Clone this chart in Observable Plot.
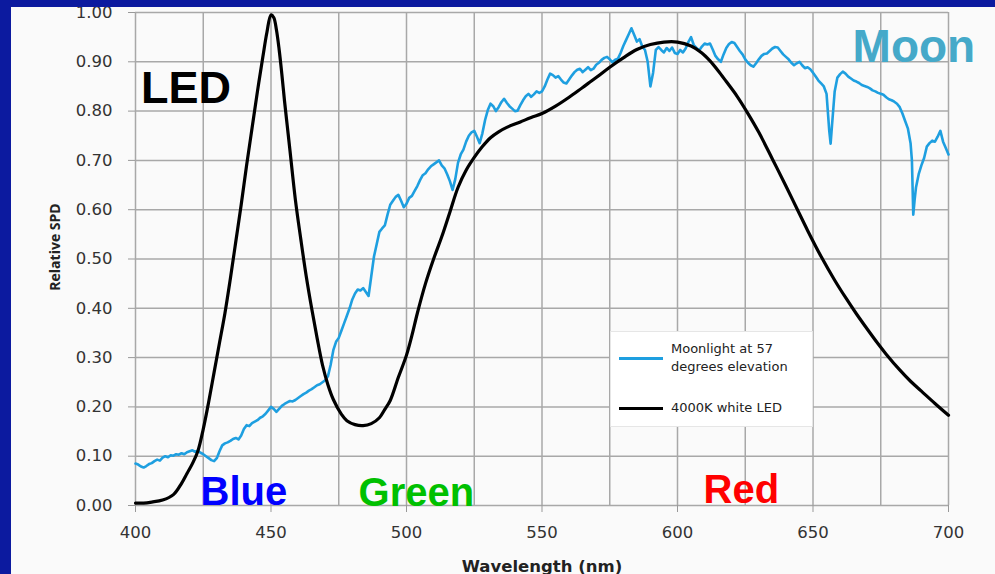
<!DOCTYPE html>
<html>
<head>
<meta charset="utf-8">
<script src="https://cdn.jsdelivr.net/npm/d3@7"></script>
<script src="https://cdn.jsdelivr.net/npm/@observablehq/plot@0.6"></script>
<style>
  html, body { margin: 0; padding: 0; background: #fafafa; }
  #wrap { position: relative; width: 995px; height: 574px; overflow: hidden; background: #fafafa; }
  #chart svg { display: block; }
  .bar { position: absolute; background: #0c1a9f; }
  #legend { position: absolute; left: 610px; top: 331px; width: 201px; height: 94px; background: #ffffff;
            border: 1px solid #e6e6e6; font-family: "DejaVu Sans", sans-serif; font-size: 13px; color: #222; }
  #legend .sw { position: absolute; left: 8px; width: 44px; height: 3px; }
  #legend .tx { position: absolute; left: 60px; line-height: 18px; white-space: nowrap; }
</style>
</head>
<body>
<div id="wrap">
  <div id="chart"></div>
  <div id="legend">
    <div class="sw" style="top:25px;background:#1e9fe0"></div>
    <div class="tx" style="top:8px">Moonlight at 57<br>degrees elevation</div>
    <div class="sw" style="top:75px;background:#000"></div>
    <div class="tx" style="top:67px">4000K white LED</div>
  </div>
  <div class="bar" style="left:0;top:0;width:995px;height:7px"></div>
  <div class="bar" style="left:0;top:0;width:11px;height:574px"></div>
</div>
<script>
const xTicks = [400, 450, 500, 550, 600, 650, 700];
const xGrid = [400, 425, 450, 475, 500, 525, 550, 575, 600, 625, 650, 675, 700];
const yTicks = [0, 0.1, 0.2, 0.3, 0.4, 0.5, 0.6, 0.7, 0.8, 0.9, 1.0];

const ledNm = [400, 403, 406, 410, 414, 417, 419, 421, 423, 425, 427, 429, 431, 433, 435, 437, 439, 441, 443, 445, 447, 448.5, 450, 451, 452, 453, 454, 455, 456, 457, 459, 461, 463, 465, 467, 469, 471, 473, 476, 478, 481, 484, 487, 490, 492, 494, 497, 500, 502, 504, 507, 510, 513, 516, 519, 522, 525, 528, 531, 534, 537, 542, 546, 550, 555, 560, 565, 570, 575, 580, 585, 590, 595, 600, 605, 609, 612, 615, 618, 622, 626, 630, 635, 640, 644, 648, 653, 658, 662, 666, 670, 674, 677, 682, 686, 690, 695, 700];
const ledSpd = [0.005, 0.005, 0.007, 0.011, 0.022, 0.045, 0.065, 0.085, 0.11, 0.155, 0.21, 0.27, 0.33, 0.39, 0.46, 0.535, 0.61, 0.69, 0.765, 0.84, 0.91, 0.96, 0.995, 0.99, 0.965, 0.925, 0.875, 0.82, 0.77, 0.72, 0.62, 0.54, 0.465, 0.40, 0.34, 0.285, 0.245, 0.215, 0.185, 0.172, 0.164, 0.162, 0.166, 0.178, 0.195, 0.213, 0.26, 0.305, 0.345, 0.39, 0.45, 0.50, 0.545, 0.595, 0.645, 0.68, 0.706, 0.728, 0.746, 0.758, 0.767, 0.778, 0.787, 0.795, 0.81, 0.828, 0.848, 0.868, 0.889, 0.908, 0.925, 0.935, 0.94, 0.94, 0.932, 0.918, 0.902, 0.882, 0.86, 0.83, 0.795, 0.757, 0.703, 0.648, 0.603, 0.558, 0.505, 0.457, 0.422, 0.389, 0.358, 0.328, 0.307, 0.275, 0.252, 0.232, 0.207, 0.183];

const moonNm = [400,401,402,403,404,405,406,407,408,409,410,411,412,413,414,415,416,417,418,419,420,421,422,423,424,425,426,427,428,429,430,431,432,433,434,435,436,437,438,439,440,441,442,443,444,445,446,447,448,449,450,451,452,453,454,455,456,457,458,459,460,461,462,463,464,465,466,467,468,469,470,471,472,473,474,475,476,477,478,479,480,481,482,483,484,485,486,487,488,489,490,491,492,493,494,495,496,497,498,499,500,501,502,503,504,505,506,507,508,509,510,511,512,513,514,515,516,517,518,519,520,521,522,523,524,525,526,527,528,529,530,531,532,533,534,535,536,537,538,539,540,541,542,543,544,545,546,547,548,549,550,551,552,553,554,555,556,557,558,559,560,561,562,563,564,565,566,567,568,569,570,571,572,573,574,575,576,577,578,579,580,581,582,583,584,585,586,587,588,589,590,591,592,593,594,595,596,597,598,599,600,601,602,603,604,605,606,607,608,609,610,611,612,613,614,615,616,617,618,619,620,621,622,623,624,625,626,627,628,629,630,631,632,633,634,635,636,637,638,639,640,641,642,643,644,645,646,647,648,649,650,651,652,653,654,655,656,656.5,657,658,659,660,661,662,663,664,665,666,667,668,669,670,671,672,673,674,675,676,677,678,679,680,681,682,683,684,685,686,686.5,687,687.5,688,689,690,691,692,693,694,695,696,697,698,699,700];
const moonSpd = [.085,.083,.079,.077,.080,.084,.086,.090,.093,.091,.097,.100,.098,.102,.101,.104,.103,.106,.104,.108,.110,.112,.109,.111,.107,.104,.100,.096,.092,.090,.096,.110,.122,.126,.128,.131,.135,.137,.134,.142,.155,.163,.161,.167,.170,.173,.178,.181,.186,.193,.200,.196,.190,.196,.202,.206,.209,.212,.211,.214,.218,.222,.226,.229,.233,.236,.240,.244,.246,.250,.254,.262,.285,.315,.332,.340,.355,.370,.385,.400,.418,.430,.438,.436,.441,.433,.425,.465,.505,.530,.555,.562,.568,.590,.610,.618,.626,.630,.618,.605,.612,.624,.628,.638,.648,.660,.670,.674,.682,.688,.692,.696,.700,.690,.684,.672,.658,.640,.662,.695,.712,.722,.738,.750,.757,.760,.748,.735,.755,.782,.802,.815,.810,.800,.808,.818,.825,.817,.810,.805,.800,.801,.812,.822,.830,.835,.829,.834,.840,.837,.840,.850,.864,.876,.873,.868,.871,.864,.858,.856,.864,.872,.879,.884,.886,.879,.884,.889,.883,.886,.894,.898,.904,.908,.910,.905,.899,.904,.906,.918,.932,.944,.956,.968,.955,.941,.946,.931,.924,.900,.850,.878,.924,.930,.924,.919,.928,.922,.929,.918,.916,.924,.919,.927,.940,.950,.934,.928,.923,.931,.937,.935,.937,.925,.912,.905,.900,.915,.928,.936,.940,.938,.930,.922,.915,.905,.898,.893,.890,.897,.905,.912,.916,.917,.922,.927,.930,.929,.922,.915,.910,.905,.898,.893,.897,.900,.893,.887,.889,.885,.878,.870,.862,.856,.850,.835,.760,.734,.770,.840,.868,.875,.880,.876,.870,.866,.862,.860,.857,.853,.851,.849,.846,.842,.840,.837,.835,.833,.828,.824,.822,.819,.815,.808,.795,.780,.765,.735,.700,.590,.620,.645,.672,.690,.705,.728,.735,.740,.738,.748,.760,.738,.725,.712];

const labelText = ["LED", "Moon", "Blue", "Green", "Red"];
const labelNm = [402, 664.6, 424, 482.3, 609.6];
const labelSpd = [0.816, 0.899, 0.002, 0.0, 0.005];
const labelColor = ["#000000", "#45a9c9", "#0000ff", "#00c000", "#ff0000"];
const labelSize = [45, 46, 40, 40, 40];

const led = ledNm.map((x, i) => ({x, y: ledSpd[i]}));
const moon = moonNm.map((x, i) => ({x, y: moonSpd[i]}));
const labels = labelText.map((t, i) => ({t, x: labelNm[i], y: labelSpd[i], c: labelColor[i], s: labelSize[i]}));

const chart = Plot.plot({
  width: 995,
  height: 574,
  marginLeft: 135,
  marginRight: 47,
  marginTop: 12,
  marginBottom: 69,
  style: {background: "transparent", fontFamily: "DejaVu Sans, sans-serif", fontSize: "16px", color: "#333"},
  x: {domain: [400, 700]},
  y: {domain: [0, 1]},
  marks: [
    Plot.gridX(xGrid, {stroke: "#a8a8a8", strokeOpacity: 1, strokeWidth: 1.5}),
    Plot.gridY(yTicks, {stroke: "#a8a8a8", strokeOpacity: 1, strokeWidth: 1.5}),
    Plot.line(moon, {x: "x", y: "y", stroke: "#1e9fe0", strokeWidth: 2.6, strokeLinejoin: "round"}),
    Plot.line(led, {x: "x", y: "y", stroke: "#000", strokeWidth: 3.2, curve: "catmull-rom"}),
    Plot.axisX(xTicks, {tickSize: 7, tickPadding: 14, stroke: "#999", fill: "#333", label: null, fontSize: 16.5}),
    Plot.axisY(yTicks, {tickSize: 7, tickPadding: 16, stroke: "#999", fill: "#333", label: null, fontSize: 16.5, tickFormat: d3.format(".2f")}),
    Plot.text(["Wavelength (nm)"], {text: d => d, frameAnchor: "bottom", lineAnchor: "bottom", dy: 66, fontWeight: "bold", fontSize: 16.5, fill: "#222"}),
    Plot.text(["Relative SPD"], {text: d => d, frameAnchor: "left", textAnchor: "middle", rotate: -90, dx: -80, dy: -12, fontWeight: "bold", fontSize: 14, fontFamily: "Open Sans, sans-serif", fill: "#222"}),
    Plot.text(labels, {x: "x", y: "y", text: "t", fill: "c", fontSize: "s", textAnchor: "start", lineAnchor: "bottom", fontWeight: "bold", fontFamily: "Liberation Sans, Arial, sans-serif"})
  ]
});
document.getElementById("chart").appendChild(chart);
</script>
</body>
</html>
